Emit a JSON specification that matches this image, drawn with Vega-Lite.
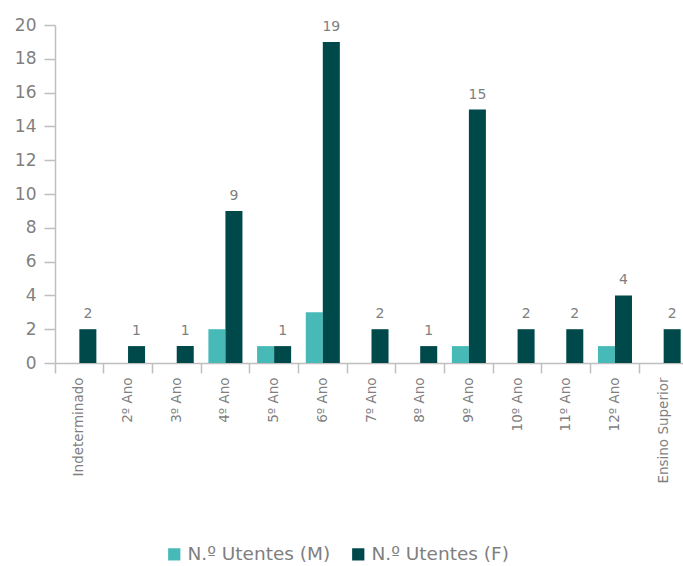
{
  "$schema": "https://vega.github.io/schema/vega-lite/v6.json",
  "width": 633,
  "height": 338,
  "autosize": "none",
  "padding": {"left": 55, "top": 25, "right": 0, "bottom": 203},
  "background": "white",
  "config": {
    "font": "DejaVu Sans",
    "view": {"stroke": null}
  },
  "data": {
    "values": [
      {"cat": "Indeterminado", "serie": "N.º Utentes (M)", "v": 0},
      {"cat": "Indeterminado", "serie": "N.º Utentes (F)", "v": 2},
      {"cat": "2º Ano", "serie": "N.º Utentes (M)", "v": 0},
      {"cat": "2º Ano", "serie": "N.º Utentes (F)", "v": 1},
      {"cat": "3º Ano", "serie": "N.º Utentes (M)", "v": 0},
      {"cat": "3º Ano", "serie": "N.º Utentes (F)", "v": 1},
      {"cat": "4º Ano", "serie": "N.º Utentes (M)", "v": 2},
      {"cat": "4º Ano", "serie": "N.º Utentes (F)", "v": 9},
      {"cat": "5º Ano", "serie": "N.º Utentes (M)", "v": 1},
      {"cat": "5º Ano", "serie": "N.º Utentes (F)", "v": 1},
      {"cat": "6º Ano", "serie": "N.º Utentes (M)", "v": 3},
      {"cat": "6º Ano", "serie": "N.º Utentes (F)", "v": 19},
      {"cat": "7º Ano", "serie": "N.º Utentes (M)", "v": 0},
      {"cat": "7º Ano", "serie": "N.º Utentes (F)", "v": 2},
      {"cat": "8º Ano", "serie": "N.º Utentes (M)", "v": 0},
      {"cat": "8º Ano", "serie": "N.º Utentes (F)", "v": 1},
      {"cat": "9º Ano", "serie": "N.º Utentes (M)", "v": 1},
      {"cat": "9º Ano", "serie": "N.º Utentes (F)", "v": 15},
      {"cat": "10º Ano", "serie": "N.º Utentes (M)", "v": 0},
      {"cat": "10º Ano", "serie": "N.º Utentes (F)", "v": 2},
      {"cat": "11º Ano", "serie": "N.º Utentes (M)", "v": 0},
      {"cat": "11º Ano", "serie": "N.º Utentes (F)", "v": 2},
      {"cat": "12º Ano", "serie": "N.º Utentes (M)", "v": 1},
      {"cat": "12º Ano", "serie": "N.º Utentes (F)", "v": 4},
      {"cat": "Ensino Superior", "serie": "N.º Utentes (M)", "v": 0},
      {"cat": "Ensino Superior", "serie": "N.º Utentes (F)", "v": 2}
    ]
  },
  "encoding": {
    "x": {
      "field": "cat",
      "type": "nominal",
      "sort": null,
      "scale": {"paddingInner": 0, "paddingOuter": 0},
      "axis": {
        "title": null,
        "bandPosition": 0,
        "labelAngle": -90,
        "labelAlign": "right",
        "labelBaseline": "middle",
        "labelFontSize": 13.5,
        "labelColor": "#7f7f7f",
        "labelPadding": 4,
        "tickSize": 10,
        "tickColor": "#bfbfbf",
        "domainColor": "#bfbfbf",
        "tickWidth": 1.5,
        "domainWidth": 1.5
      }
    },
    "xOffset": {
      "field": "serie",
      "type": "nominal",
      "sort": ["N.º Utentes (M)", "N.º Utentes (F)"],
      "scale": {"paddingInner": 0, "paddingOuter": 0.43}
    },
    "y": {
      "field": "v",
      "type": "quantitative",
      "scale": {"domain": [0, 20], "nice": false},
      "axis": {
        "title": null,
        "values": [0, 2, 4, 6, 8, 10, 12, 14, 16, 18, 20],
        "grid": false,
        "labelFontSize": 17,
        "labelColor": "#7f7f7f",
        "labelPadding": 8,
        "tickSize": 11,
        "tickColor": "#bfbfbf",
        "domainColor": "#bfbfbf",
        "tickWidth": 1.5,
        "domainWidth": 1.5
      }
    }
  },
  "layer": [
    {
      "mark": {"type": "bar"},
      "encoding": {
        "color": {
          "field": "serie",
          "type": "nominal",
          "sort": ["N.º Utentes (M)", "N.º Utentes (F)"],
          "scale": {
            "domain": ["N.º Utentes (M)", "N.º Utentes (F)"],
            "range": ["#47BAB8", "#00494A"]
          },
          "legend": {
            "title": null,
            "orient": "none",
            "direction": "horizontal",
            "legendX": 110,
            "legendY": 520,
            "symbolType": "square",
            "symbolSize": 150,
            "symbolStrokeWidth": 0,
            "labelFontSize": 18.5,
            "labelColor": "#7f7f7f",
            "labelOffset": 4,
            "columnPadding": 18
          }
        }
      }
    },
    {
      "transform": [{"filter": "datum.serie === 'N.º Utentes (F)'"}],
      "mark": {"type": "text", "baseline": "bottom", "dy": -8, "fontSize": 14, "color": "#7f7f7f"},
      "encoding": {
        "text": {"field": "v", "type": "quantitative"}
      }
    }
  ]
}
